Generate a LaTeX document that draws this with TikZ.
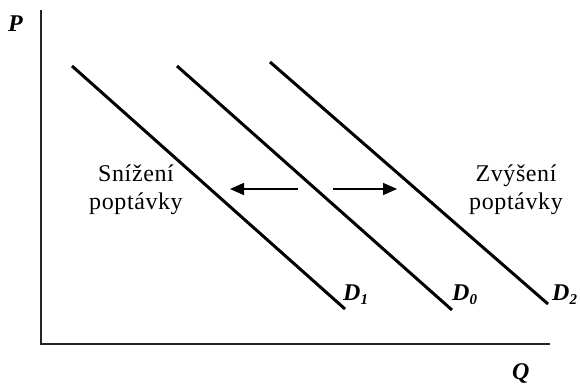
\documentclass[tikz,border=0pt]{standalone}
\usepackage{fontspec}
\setmainfont{Liberation Serif}
\newfontfamily\notefont[LetterSpace=2.5]{Liberation Serif}
\usetikzlibrary{positioning,arrows.meta}

\begin{document}
\begin{tikzpicture}[
  x=1pt, y=-1pt,
  axis/.style={line width=1.6pt, draw=black!85},
  demand/.style={line width=3pt, draw=black},
  shiftarrow/.style={-{Triangle[length=14pt,width=12pt]}, line width=1.6pt},
  curvelabel/.style={font=\fontsize{24}{28}\selectfont\bfseries\itshape,
                     anchor=base west, inner sep=0pt},
  note/.style={font=\notefont\fontsize{24}{28}\selectfont, align=center},
]
\useasboundingbox (0,0) rectangle (580,387);

% axes
\coordinate (origin) at (41,344);
\coordinate (ptop)   at (41,10);
\coordinate (qend)   at (550,344);
\draw[axis] (ptop) -- (origin) -- (qend);
\node[curvelabel] (plabel) at (8,32) {P};
\node[curvelabel] (qlabel) at (512,379) {Q};

% demand curves
\coordinate (d1a) at (72,66);   \coordinate (d1b) at (345,309);
\coordinate (d0a) at (177,66);  \coordinate (d0b) at (452,310);
\coordinate (d2a) at (270,62);  \coordinate (d2b) at (548,304);
\draw[demand] (d1a) -- (d1b);
\draw[demand] (d0a) -- (d0b);
\draw[demand] (d2a) -- (d2b);

\node[curvelabel] (l1) at (343,300) {D{\fontsize{15}{15}\selectfont\raisebox{-4pt}{1}}};
\node[curvelabel] (l0) at (452,300) {D{\fontsize{15}{15}\selectfont\raisebox{-4pt}{0}}};
\node[curvelabel] (l2) at (552,300) {D{\fontsize{15}{15}\selectfont\raisebox{-4pt}{2}}};

% shifts
\coordinate (ltail) at (298,189); \coordinate (lhead) at (230,189);
\coordinate (rtail) at (333,189); \coordinate (rhead) at (397,189);
\draw[shiftarrow] (ltail) -- (lhead);
\draw[shiftarrow] (rtail) -- (rhead);

\node[note] (decrease) at (136,190) {Snížení\\poptávky};
\node[note] (increase) at (516,190) {Zvýšení\\poptávky};
\end{tikzpicture}
\end{document}
